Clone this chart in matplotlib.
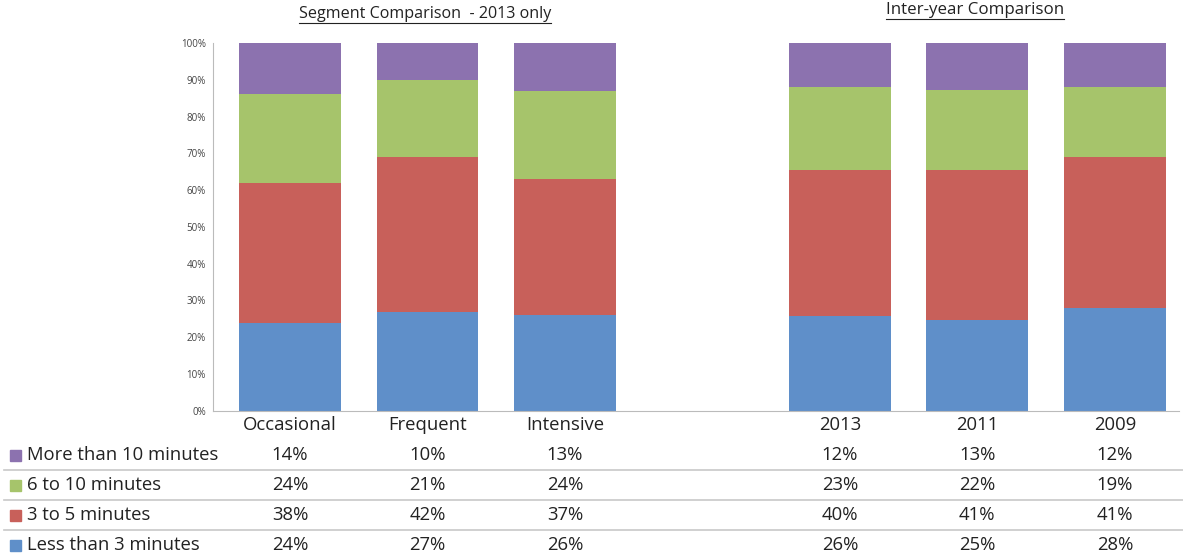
import numpy as np
import matplotlib
matplotlib.use("Agg")
import matplotlib.pyplot as plt
from matplotlib.lines import Line2D
from matplotlib.patches import Rectangle

# === Data (percent of respondents per duration band)
categories = ["Occasional", "Frequent", "Intensive", "2013", "2011", "2009"]
positions = [0, 1, 2, 4, 5, 6]
series_names = ["More than 10 minutes", "6 to 10 minutes", "3 to 5 minutes", "Less than 3 minutes"]
more_than_10 = [14, 10, 13, 12, 13, 12]
six_to_10 = [24, 21, 24, 23, 22, 19]
three_to_5 = [38, 42, 37, 40, 41, 41]
less_than_3 = [24, 27, 26, 26, 25, 28]
colors = ["#8C72AF", "#A6C46B", "#C8605A", "#5F8FC9"]

plt.rcParams["font.family"] = ["Open Sans", "DejaVu Sans"]

fig = plt.figure(figsize=(11.83, 5.56), dpi=100)
ax = fig.add_axes([0.180, 0.261, 0.817, 0.6618])

# stack from the bottom: less than 3 first, normalised to 100%
stack = [less_than_3, three_to_5, six_to_10, more_than_10]
stack_colors = colors[::-1]
totals = np.sum(np.array(stack, dtype=float), axis=0)
bottom = np.zeros(len(categories))
for vals, col in zip(stack, stack_colors):
    share = np.array(vals, dtype=float) / totals
    ax.bar(positions, share, width=0.74, bottom=bottom, color=col, edgecolor="none")
    bottom += share

ax.set_xlim(-0.56, 6.47)
ax.set_ylim(0, 1)
ax.set_yticks(np.arange(0, 1.01, 0.1))
ax.set_yticklabels([f"{int(round(t * 100))}%" for t in np.arange(0, 1.01, 0.1)],
                   fontsize=7, color="#444444")
ax.tick_params(axis="y", length=0, pad=5)
ax.set_xticks([])
for s in ["top", "right"]:
    ax.spines[s].set_visible(False)
ax.spines["left"].set_color("#BBBBBB")
ax.spines["bottom"].set_color("#BBBBBB")

# === Data table below the bars
def fx(xdata):
    return ax.transData.transform((xdata, 0))[0] / fig.bbox.width

label_y = 1 - 425 / 556
for p, c in zip(positions, categories):
    fig.text(fx(p), label_y, c, ha="center", va="center", fontsize=13.3, color="#222222")

row_ys = [455, 485, 515, 545]
for i, (name, vals, col) in enumerate(zip(series_names, [more_than_10, six_to_10, three_to_5, less_than_3], colors)):
    yy = 1 - row_ys[i] / 556
    fig.patches.append(Rectangle((10 / 1183, yy - 5.5 / 556), 11 / 1183, 11 / 556,
                                 transform=fig.transFigure, color=col))
    fig.text(27 / 1183, yy, name, ha="left", va="center", fontsize=13.3, color="#222222")
    for p, v in zip(positions, vals):
        fig.text(fx(p), yy, f"{v}%", ha="center", va="center", fontsize=13.3, color="#222222")

for ly in [470, 500, 530]:
    fig.lines.append(Line2D([4 / 1183, 1], [1 - ly / 556] * 2, transform=fig.transFigure,
                            color="#C8C8C8", linewidth=1.2))

# === Underlined section titles
titles = [("Segment Comparison  - 2013 only", 425, 14, 11.6), ("Inter-year Comparison", 975, 10, 12.2)]
fig.canvas.draw()
renderer = fig.canvas.get_renderer()
for text, xc, yc, fs in titles:
    t = fig.text(xc / 1183, 1 - yc / 556, text, ha="center", va="center", fontsize=fs, color="#222222")
    bb = t.get_window_extent(renderer=renderer)
    uy = (bb.y0 - 0.5) / fig.bbox.height
    fig.lines.append(Line2D([bb.x0 / fig.bbox.width, bb.x1 / fig.bbox.width], [uy, uy],
                            transform=fig.transFigure, color="#222222", linewidth=0.8))

fig.savefig("out.png", dpi=100)
